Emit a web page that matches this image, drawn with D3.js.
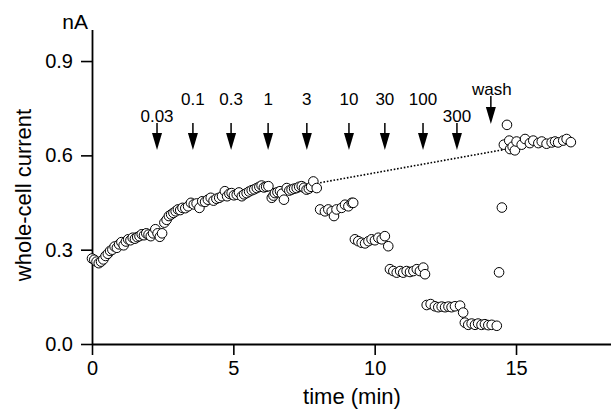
<!DOCTYPE html>
<meta charset="utf-8">
<script src="https://d3js.org/d3.v7.min.js"></script>
<style>
  body { margin: 0; background: #fff; }
  svg text { font-family: "Liberation Sans", Arial, Helvetica, sans-serif; fill: #000; }
</style>
<div id="chart"></div>
<script>
// sample times (min) and whole-cell current (nA)
var timeMin = [
  0.00, 0.08, 0.16, 0.24, 0.32, 0.40, 0.48, 0.56, 0.64, 0.72, 0.80, 0.88, 0.96, 1.04, 1.12, 1.20,
  1.28, 1.36, 1.44, 1.52, 1.60, 1.68, 1.76, 1.84, 1.92, 2.00, 2.08, 2.16, 2.24, 2.32, 2.40, 2.48,
  2.56, 2.64, 2.72, 2.80, 2.88, 2.96, 3.04, 3.12, 3.20, 3.30, 3.40, 3.50, 3.60, 3.70, 3.80, 3.90,
  4.00, 4.10, 4.20, 4.30, 4.40, 4.50, 4.60, 4.70, 4.78, 4.86, 4.94, 5.02, 5.12, 5.20, 5.30, 5.38,
  5.47, 5.56, 5.65, 5.74, 5.83, 5.92, 6.00, 6.08, 6.16, 6.24, 6.36, 6.42, 6.47, 6.56, 6.65, 6.72,
  6.79, 6.89, 6.98, 7.06, 7.15, 7.24, 7.33, 7.42, 7.50, 7.59, 7.67, 7.75, 7.83, 7.95,
  8.07, 8.24, 8.36, 8.48, 8.56, 8.65, 8.83, 8.95, 9.07, 9.19, 9.24,
  9.30, 9.42, 9.54, 9.66, 9.78, 9.89, 10.01, 10.13, 10.25, 10.36, 10.48,
  10.54, 10.66, 10.78, 10.90, 11.01, 11.13, 11.25, 11.37, 11.49, 11.60, 11.72, 11.78,
  11.84, 11.98, 12.13, 12.25, 12.37, 12.49, 12.61, 12.72, 12.84, 13.02, 13.13,
  13.19, 13.31, 13.43, 13.55, 13.66, 13.78, 13.90, 14.02, 14.14, 14.32,
  14.40, 14.50, 14.68,
  14.57, 14.76, 14.79, 14.88, 14.96, 15.02, 15.20, 15.32, 15.49, 15.61, 15.79, 15.91, 16.08,
  16.26, 16.38, 16.49, 16.67, 16.79, 16.94
];
var currentNA = [
  0.272, 0.268, 0.262, 0.257, 0.262, 0.269, 0.280, 0.287, 0.296, 0.300, 0.310, 0.306, 0.317, 0.324, 0.314, 0.326,
  0.333, 0.330, 0.338, 0.335, 0.340, 0.343, 0.349, 0.346, 0.352, 0.348, 0.343, 0.352, 0.365, 0.352, 0.341, 0.352,
  0.386, 0.395, 0.407, 0.412, 0.417, 0.422, 0.428, 0.426, 0.433, 0.432, 0.438, 0.449, 0.444, 0.447, 0.433, 0.454,
  0.452, 0.459, 0.465, 0.456, 0.462, 0.465, 0.470, 0.486, 0.470, 0.478, 0.480, 0.473, 0.475, 0.482, 0.470, 0.476,
  0.480, 0.485, 0.489, 0.492, 0.496, 0.500, 0.504, 0.498, 0.500, 0.502, 0.465, 0.472, 0.480, 0.483, 0.486, 0.478,
  0.459, 0.496, 0.488, 0.491, 0.494, 0.496, 0.500, 0.502, 0.497, 0.491, 0.494, 0.500, 0.517, 0.496,
  0.428, 0.422, 0.428, 0.422, 0.407, 0.428, 0.433, 0.443, 0.438, 0.449, 0.449,
  0.333, 0.327, 0.322, 0.320, 0.327, 0.333, 0.330, 0.338, 0.333, 0.343, 0.311,
  0.238, 0.232, 0.227, 0.232, 0.227, 0.232, 0.229, 0.232, 0.238, 0.232, 0.243, 0.222,
  0.124, 0.127, 0.120, 0.117, 0.119, 0.117, 0.119, 0.117, 0.120, 0.122, 0.100,
  0.068, 0.061, 0.065, 0.061, 0.065, 0.061, 0.063, 0.060, 0.061, 0.058,
  0.228, 0.434, 0.697,
  0.634, 0.647, 0.620, 0.628, 0.616, 0.644, 0.634, 0.652, 0.639, 0.647, 0.639, 0.644, 0.637,
  0.641, 0.644, 0.641, 0.647, 0.652, 0.642
];

// drug applications (concentration labels) and wash
var doseTimes = [2.30, 3.57, 4.92, 6.23, 7.60, 9.09, 10.36, 11.71, 12.91];
var doseLabels = ["0.03", "0.1", "0.3", "1", "3", "10", "30", "100", "300"];
var washTime = 14.11;

// dotted extrapolation of the control current
var trendTime = [8.07, 14.55];
var trendCurrent = [0.513, 0.618];

var xTicks = [0, 5, 10, 15];
var yTicks = [0, 0.3, 0.6, 0.9];

var W = 611, H = 409;
var svg = d3.select("#chart").append("svg")
  .attr("width", W).attr("height", H);

var x = d3.scaleLinear().domain([0, 18.36]).range([92, 611]);
var y = d3.scaleLinear().domain([0, 1]).range([344, 29.6]);

// axes
svg.append("g")
  .attr("transform", "translate(0," + y(0) + ")")
  .call(d3.axisBottom(x).tickValues(xTicks).tickFormat(d3.format("d"))
    .tickSize(11).tickSizeOuter(0).tickPadding(6));
svg.append("g")
  .attr("transform", "translate(" + x(0) + ",0)")
  .call(d3.axisLeft(y).tickValues(yTicks).tickFormat(d3.format(".1f"))
    .tickSize(11).tickSizeOuter(0).tickPadding(8));

svg.selectAll(".domain").attr("stroke", "#000").attr("stroke-width", 1.8);
svg.selectAll(".tick line").attr("stroke", "#000").attr("stroke-width", 1.6);
svg.selectAll(".tick text").style("font-size", "20px")
  .style("font-family", "'Liberation Sans', Arial, sans-serif").attr("fill", "#000");

// axis titles
svg.append("text")
  .attr("x", 352).attr("y", 404)
  .attr("text-anchor", "middle")
  .style("font-size", "22px")
  .text("time (min)");
svg.append("text")
  .attr("transform", "translate(31,195) rotate(-90)")
  .attr("text-anchor", "middle")
  .style("font-size", "22px")
  .text("whole-cell current");
svg.append("text")
  .attr("x", 88).attr("y", 29)
  .attr("text-anchor", "end")
  .style("font-size", "21px")
  .text("nA");

// dotted line
svg.append("line")
  .attr("x1", x(trendTime[0])).attr("y1", y(trendCurrent[0]))
  .attr("x2", x(trendTime[1])).attr("y2", y(trendCurrent[1]))
  .attr("stroke", "#000").attr("stroke-width", 1.6)
  .attr("stroke-dasharray", "1.6,1.8");

// arrows
function arrow(t, top, tip) {
  var cx = x(t), headTop = tip - 17;
  var g = svg.append("g");
  g.append("line")
    .attr("x1", cx).attr("x2", cx)
    .attr("y1", top).attr("y2", headTop + 2)
    .attr("stroke", "#000").attr("stroke-width", 1.5);
  g.append("path")
    .attr("d", "M" + (cx - 5) + "," + headTop + "L" + (cx + 5) + "," + headTop + "L" + cx + "," + tip + "Z")
    .attr("fill", "#000");
}

doseTimes.forEach(function (t, i) {
  arrow(t, 123, 150);
  var low = (i === 0 || i === doseTimes.length - 1);
  svg.append("text")
    .attr("x", x(t)).attr("y", low ? 122 : 105)
    .attr("text-anchor", "middle")
    .style("font-size", "17px")
    .text(doseLabels[i]);
});
arrow(washTime, 96, 124);
svg.append("text")
  .attr("x", x(washTime) + 1).attr("y", 95)
  .attr("text-anchor", "middle")
  .style("font-size", "17px")
  .text("wash");

// data points
svg.append("g")
  .selectAll("circle")
  .data(timeMin)
  .enter()
  .append("circle")
    .attr("cx", function (d) { return x(d); })
    .attr("cy", function (d, i) { return y(currentNA[i]); })
    .attr("r", 4.8)
    .attr("fill", "#fff")
    .attr("stroke", "#000")
    .attr("stroke-width", 1);
</script>
